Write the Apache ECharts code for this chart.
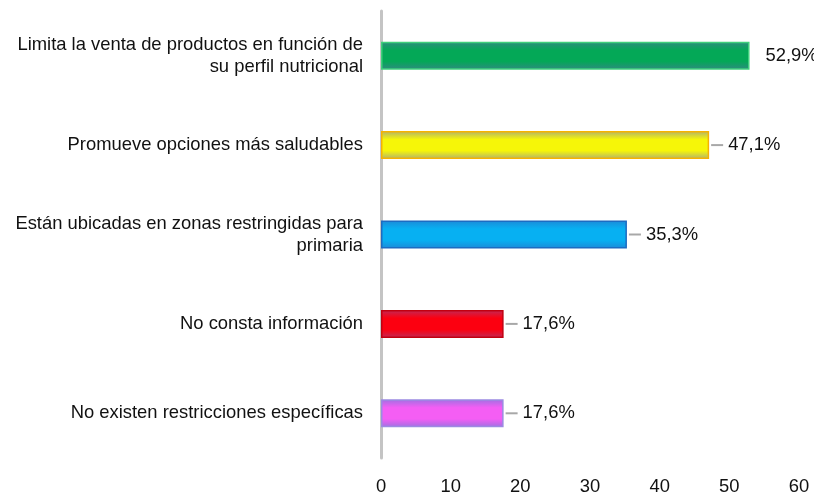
<!DOCTYPE html>
<html>
<head>
<meta charset="utf-8">
<script src="https://cdn.jsdelivr.net/npm/echarts@6/dist/echarts.min.js"></script>
<style>
html,body{margin:0;padding:0;background:#fff;}
#c{width:814px;height:496px;}
</style>
</head>
<body>
<div id="c"></div>
<script>
// Data
var categories = [
  "Limita la venta de productos en función de\nsu perfil nutricional",
  "Promueve opciones más saludables",
  "Están ubicadas en zonas restringidas para\nprimaria",
  "No consta información",
  "No existen restricciones específicas"
];
var values = [52.9, 47.1, 35.3, 17.6, 17.6];
var valueLabels = ["52,9%", "47,1%", "35,3%", "17,6%", "17,6%"];
var xTicks = [0, 10, 20, 30, 40, 50, 60];

// Styles
var palette = [
  {edge: '#2f8a80', center: '#04a857', border: '#3fd07c'},
  {edge: '#b0b070', center: '#f6f608', border: '#f6b300'},
  {edge: '#1c8ad8', center: '#07b0f2', border: '#1c6cc2'},
  {edge: '#c02a58', center: '#fc0010', border: '#c20010'},
  {edge: '#a070e2', center: '#f45ef4', border: '#9c8ae2'}
];
var FONT = "'Liberation Sans', Arial, Helvetica, sans-serif";
var FS = 18.4;

var seriesData = values.map(function (v, i) {
  var p = palette[i];
  var showLine = i !== 0;
  return {
    value: v,
    itemStyle: {
      color: {
        type: 'linear', x: 0, y: 0, x2: 0, y2: 1,
        colorStops: [
          {offset: 0, color: p.edge},
          {offset: 0.3, color: p.center},
          {offset: 0.7, color: p.center},
          {offset: 1, color: p.edge}
        ]
      },
      borderColor: p.border,
      borderWidth: 1.5
    },
    label: {
      show: true,
      position: 'right',
      distance: showLine ? 2 : 11,
      formatter: showLine ? ('{l|}{t|' + valueLabels[i] + '}') : ('{t|' + valueLabels[i] + '}')
    }
  };
});

var chart = echarts.init(document.getElementById('c'), null, {renderer: 'canvas'});
chart.setOption({
  backgroundColor: '#ffffff',
  animation: false,
  grid: {left: 381, right: 15, top: 11, bottom: 36, containLabel: false},
  xAxis: {
    type: 'value',
    min: 0, max: 60, interval: 10,
    axisLine: {show: false},
    axisTick: {show: false},
    splitLine: {show: false},
    axisLabel: {
      margin: 20,
      color: '#111',
      fontSize: FS,
      fontFamily: FONT,
      formatter: function (v) { return xTicks.indexOf(v) >= 0 ? String(v) : ''; }
    }
  },
  yAxis: {
    type: 'category',
    data: categories,
    inverse: true,
    axisLine: {show: true, lineStyle: {color: '#c4c4c4', width: 3}},
    axisTick: {show: false},
    splitLine: {show: false},
    axisLabel: {
      margin: 18,
      color: '#111',
      fontSize: FS,
      lineHeight: 22,
      fontFamily: FONT,
      align: 'right'
    }
  },
  series: [{
    type: 'bar',
    barWidth: 28,
    data: seriesData,
    label: {
      show: true,
      color: '#111',
      fontSize: FS,
      fontFamily: FONT,
      rich: {
        l: {width: 12, height: 2, backgroundColor: '#a8a8a8', padding: 0},
        t: {fontSize: FS, fontFamily: FONT, color: '#111', padding: [0, 0, 0, 5]}
      }
    }
  }]
});
</script>
</body>
</html>
